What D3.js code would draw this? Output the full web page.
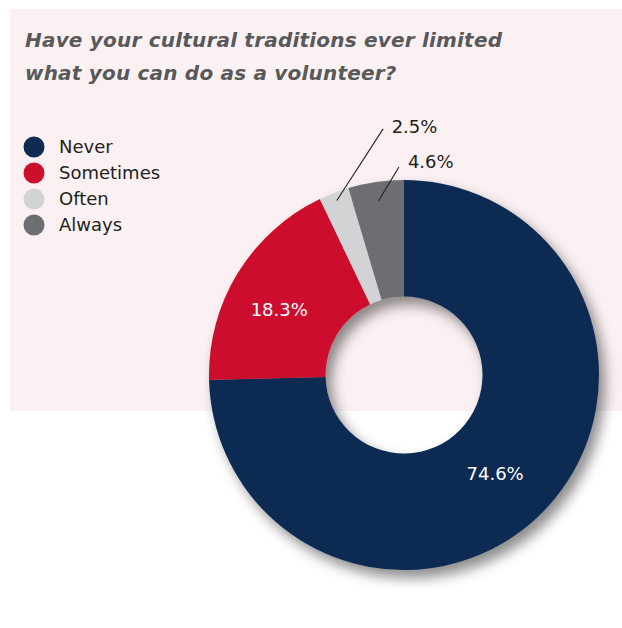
<!DOCTYPE html>
<html>
<head>
<meta charset="utf-8">
<script src="https://cdn.jsdelivr.net/npm/d3@7"></script>
<style>
  html, body { margin: 0; padding: 0; background: #ffffff; }
  svg { display: block; }
</style>
</head>
<body>
<svg id="chart" width="622" height="628"></svg>
<script>
// Survey answers and their shares (percent)
const categories = ["Never", "Sometimes", "Often", "Always"];
const shares = [74.6, 18.3, 2.5, 4.6];
const colors = ["#102b52", "#cd0f2e", "#d1d3d4", "#6d6e71"];
const titleLines = ["Have your cultural traditions ever limited", "what you can do as a volunteer?"];

const W = 622, H = 628;
const cx = 404, cy = 375, rOuter = 195, rInner = 78.5;
const FONT = "DejaVu Sans, Verdana, sans-serif";

const svg = d3.select("#chart");
const defs = svg.append("defs");

const shadow = defs.append("filter").attr("id", "donutShadow")
  .attr("x", "-20%").attr("y", "-20%").attr("width", "150%").attr("height", "150%");
shadow.append("feDropShadow")
  .attr("dx", 6).attr("dy", 8).attr("stdDeviation", 6.5)
  .attr("flood-color", "#000").attr("flood-opacity", 0.45);

// Tinted panel behind the title, legend and upper half of the donut
svg.append("rect")
  .attr("x", 10).attr("y", 9).attr("width", W - 10).attr("height", 402)
  .attr("fill", "#fbf1f2");

// Title
const title = svg.append("text")
  .attr("font-family", FONT)
  .attr("font-size", 20).attr("font-weight", "bold").attr("font-style", "italic")
  .attr("letter-spacing", 0.2)
  .attr("fill", "#58595b");
title.selectAll("tspan").data(titleLines).join("tspan")
  .attr("x", 25).attr("y", (d, i) => 47 + i * 33)
  .text(d => d);

// Legend
const legend = svg.append("g").attr("transform", "translate(34,147)");
const item = legend.selectAll("g").data(categories).join("g")
  .attr("transform", (d, i) => `translate(0,${i * 26})`);
item.append("circle").attr("r", 10.5).attr("fill", (d, i) => colors[i]);
item.append("text")
  .attr("x", 25).attr("dy", "0.35em")
  .attr("font-family", FONT).attr("font-size", 18)
  .attr("fill", "#231f20")
  .text(d => d);

// Donut
const pie = d3.pie().sort(null).value(d => d.value);
const arcs = pie(categories.map((c, i) => ({ name: c, value: shares[i], color: colors[i] })));
const arc = d3.arc().innerRadius(rInner).outerRadius(rOuter);

const g = svg.append("g").attr("transform", `translate(${cx},${cy})`);
g.append("g").attr("filter", "url(#donutShadow)")
  .selectAll("path").data(arcs).join("path")
  .attr("d", arc)
  .attr("fill", d => d.data.color);

const fmt = v => v.toFixed(1) + "%";
const mid = d => (d.startAngle + d.endAngle) / 2;
const polar = (r, a) => [r * Math.sin(a), -r * Math.cos(a)];

// Large slices: label inside the ring (radius and angular nudge per slice)
const insideLayout = { Never: { r: 134, shift: 0.05 }, Sometimes: { r: 141, shift: -0.065 } };
const inner = arcs.filter(d => d.data.value > 10);
g.selectAll("text.in").data(inner).join("text")
  .attr("class", "in")
  .attr("transform", d => {
    const c = insideLayout[d.data.name];
    return `translate(${polar(c.r, mid(d) + c.shift)})`;
  })
  .attr("text-anchor", "middle").attr("dy", "0.35em")
  .attr("font-family", FONT).attr("font-size", 18)
  .attr("fill", "#ffffff")
  .text(d => fmt(d.data.value));

// Thin slices: leader line out to a label above the ring
const callout = {
  Often:  { r0: 187, r1: 247, shift: 0.283, dx: 8.5, dy: 4.5 },
  Always: { r0: 176, r1: 208, shift: 0.12,  dx: 9,   dy: 0.5 }
};
const outer = arcs.filter(d => d.data.value <= 10);
outer.forEach(d => {
  const c = callout[d.data.name];
  const a = mid(d);
  const p0 = polar(c.r0, a);
  const p1 = polar(c.r1, a + c.shift);
  g.append("line")
    .attr("x1", p0[0]).attr("y1", p0[1]).attr("x2", p1[0]).attr("y2", p1[1])
    .attr("stroke", "#231f20").attr("stroke-width", 1.1);
  g.append("text")
    .attr("x", p1[0] + c.dx).attr("y", p1[1] + c.dy)
    .attr("font-family", FONT).attr("font-size", 18)
    .attr("fill", "#231f20")
    .text(fmt(d.data.value));
});
</script>
</body>
</html>
